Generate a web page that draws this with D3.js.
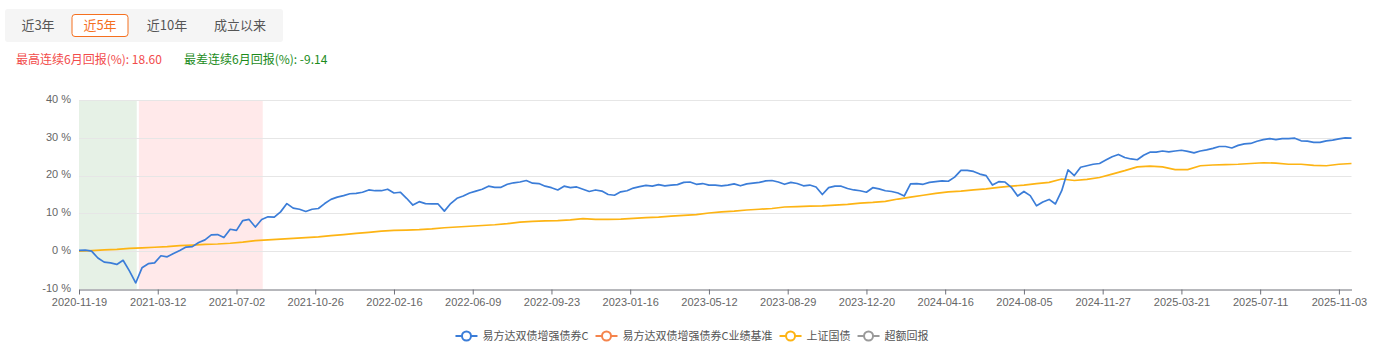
<!DOCTYPE html>
<html>
<head>
<meta charset="utf-8">
<script src="https://cdn.jsdelivr.net/npm/d3@7/dist/d3.min.js"></script>
<style>
  body { margin: 0; background: #fff; }
  text { font-family: "Microsoft YaHei", "Noto Sans CJK SC", sans-serif; }
  .num { font-family: "Liberation Sans", Arial, sans-serif; }
</style>
</head>
<body>
<svg id="chart" width="1383" height="353"></svg>
<script>
// range buttons
var rangeButtons = ["近3年", "近5年", "近10年", "成立以来"];
var activeButton = 1;

// best / worst 6 month stats
var bestLabel = "最高连续6月回报(%): 18.60";
var worstLabel = "最差连续6月回报(%): -9.14";

// x axis: trading-day index, one tick label every 75 trading days
var tickDays = [0, 75, 150, 225, 300, 375, 450, 525, 600, 675, 750, 825, 900, 975, 1050, 1125, 1200];
var tickDates = ["2020-11-19", "2021-03-12", "2021-07-02", "2021-10-26", "2022-02-16", "2022-06-09",
    "2022-09-23", "2023-01-16", "2023-05-12", "2023-08-29", "2023-12-20", "2024-04-16",
    "2024-08-05", "2024-11-27", "2025-03-21", "2025-07-11", "2025-11-03"];
var lastDay = 1212;

var yTicks = [-10, 0, 10, 20, 30, 40];

// 易方达双债增强债券C, cumulative return %, sampled every 6 trading days
var fundStep = 6;
var fundValues = [
    0.2, 0.3, 0.0, -1.8, -2.9, -3.1, -3.5, -2.4, -5.2, -8.4,
    -4.4, -3.3, -3.1, -1.2, -1.5, -0.6, 0.2, 1.1, 1.2, 2.3,
    3.0, 4.3, 4.4, 3.6, 5.8, 5.5, 8.1, 8.4, 6.4, 8.4,
    9.1, 9.0, 10.4, 12.6, 11.4, 11.1, 10.5, 11.1, 11.3, 12.6,
    13.7, 14.3, 14.7, 15.2, 15.3, 15.6, 16.2, 16.0, 16.0, 16.4,
    15.4, 15.6, 14.0, 12.2, 13.1, 12.6, 12.5, 12.5, 10.6, 12.6,
    14.0, 14.6, 15.4, 15.9, 16.4, 17.2, 16.9, 16.9, 17.7, 18.1,
    18.3, 18.7, 18.0, 17.9, 17.2, 16.8, 16.2, 17.2, 16.8, 17.0,
    16.4, 15.8, 16.2, 15.9, 15.0, 14.8, 15.7, 16.0, 16.7, 17.1,
    17.4, 17.2, 17.6, 17.3, 17.5, 17.6, 18.2, 18.3, 17.7, 17.9,
    17.5, 17.5, 17.3, 17.5, 17.8, 17.3, 17.8, 18.0, 18.2, 18.6,
    18.7, 18.3, 17.7, 18.2, 17.9, 17.3, 17.5, 17.0, 15.0, 16.8,
    17.2, 17.2, 16.6, 16.2, 16.0, 15.6, 16.8, 16.5, 16.0, 15.8,
    15.4, 14.6, 17.8, 17.9, 17.7, 18.2, 18.4, 18.6, 18.5, 19.6,
    21.4, 21.4, 21.1, 20.4, 20.0, 17.5, 18.4, 18.3, 16.9, 14.6,
    15.8, 14.7, 12.0, 13.0, 13.7, 12.5, 16.0, 21.5, 20.0, 22.2,
    22.6, 23.0, 23.2, 24.1, 25.0, 25.6, 24.8, 24.4, 24.2, 25.4,
    26.2, 26.2, 26.5, 26.3, 26.5, 26.7, 26.4, 26.0, 26.5, 26.8,
    27.2, 27.7, 27.7, 27.3, 28.0, 28.4, 28.5, 29.1, 29.5, 29.8,
    29.5, 29.8, 29.8, 29.9, 29.2, 29.1, 28.8, 28.8, 29.2, 29.4,
    29.7, 30.0, 29.9
];

// 上证国债, cumulative return %, sampled every 12 trading days
var bondStep = 12;
var bondValues = [
    0.0, 0.15, 0.35, 0.5, 0.75, 0.9, 1.05, 1.2, 1.45, 1.6,
    1.8, 1.9, 2.1, 2.4, 2.8, 3.0, 3.2, 3.4, 3.6, 3.8,
    4.1, 4.4, 4.7, 5.0, 5.3, 5.5, 5.6, 5.7, 5.9, 6.2,
    6.4, 6.6, 6.8, 7.0, 7.3, 7.7, 7.9, 8.0, 8.1, 8.3,
    8.6, 8.4, 8.4, 8.5, 8.7, 8.9, 9.0, 9.3, 9.5, 9.7,
    10.1, 10.4, 10.6, 10.9, 11.1, 11.3, 11.7, 11.8, 11.9, 12.0,
    12.2, 12.4, 12.7, 12.9, 13.2, 13.8, 14.3, 14.8, 15.3, 15.7,
    15.9, 16.2, 16.5, 16.9, 17.2, 17.5, 17.9, 18.2, 19.1, 18.7,
    19.0, 19.5, 20.4, 21.3, 22.3, 22.5, 22.3, 21.6, 21.6, 22.6,
    22.8, 22.9, 23.0, 23.2, 23.4, 23.3, 23.0, 23.0, 22.7, 22.6,
    23.0, 23.2
];

// highlighted periods (trading-day index)
var worstPeriod = [0, 55];
var bestPeriod = [57, 175];

var legendNames = ["易方达双债增强债券C", "易方达双债增强债券C业绩基准", "上证国债", "超额回报"];
var legendColors = ["#3b7dd8", "#f5844c", "#fdb414", "#9a9a9a"];

var svg = d3.select("#chart");

// ---- buttons ----
svg.append("rect")
    .attr("x", 5).attr("y", 9)
    .attr("width", 278).attr("height", 33)
    .attr("rx", 3)
    .attr("fill", "#f5f5f5");

var buttonCenters = [38, 100, 167, 240];
rangeButtons.forEach(function (b, i) {
    if (i == activeButton) {
        svg.append("rect")
            .attr("x", buttonCenters[i] - 28).attr("y", 14.5)
            .attr("width", 56).attr("height", 22)
            .attr("rx", 3)
            .attr("fill", "#fff")
            .attr("stroke", "#f5701f")
            .attr("stroke-width", 1);
    }
    svg.append("text")
        .attr("x", buttonCenters[i]).attr("y", 30)
        .attr("text-anchor", "middle")
        .attr("font-size", 13)
        .attr("fill", i == activeButton ? "#f5701f" : "#555")
        .text(b);
});

// ---- stats ----
svg.append("text")
    .attr("x", 16).attr("y", 64)
    .attr("font-size", 12)
    .attr("fill", "#f24b4b")
    .text(bestLabel);
svg.append("text")
    .attr("x", 184).attr("y", 64)
    .attr("font-size", 12)
    .attr("fill", "#1c8c1c")
    .text(worstLabel);

// ---- scales ----
var x = d3.scaleLinear().domain([0, lastDay]).range([79, 1351.5]);
var y = d3.scaleLinear().domain([-10, 40]).range([289, 100]);

// highlighted bands
svg.append("rect")
    .attr("x", x(worstPeriod[0])).attr("y", y(40))
    .attr("width", x(worstPeriod[1]) - x(worstPeriod[0]))
    .attr("height", y(-10) - y(40))
    .attr("fill", "#e6f1e6");
svg.append("rect")
    .attr("x", x(bestPeriod[0])).attr("y", y(40))
    .attr("width", x(bestPeriod[1]) - x(bestPeriod[0]))
    .attr("height", y(-10) - y(40))
    .attr("fill", "#ffe9ea");

// gridlines
svg.append("g")
    .selectAll("line")
    .data(yTicks.slice(1))
    .enter()
    .append("line")
    .attr("x1", x(0)).attr("x2", x(lastDay))
    .attr("y1", function (d) { return Math.round(y(d)) + 0.5; })
    .attr("y2", function (d) { return Math.round(y(d)) + 0.5; })
    .attr("stroke", "#e6e6e6")
    .attr("stroke-width", 1);

// y labels
svg.append("g")
    .selectAll("text")
    .data(yTicks)
    .enter()
    .append("text")
    .attr("class", "num")
    .attr("x", 71)
    .attr("y", function (d) { return y(d) - 1; })
    .attr("dy", "0.35em")
    .attr("text-anchor", "end")
    .attr("font-size", 11)
    .attr("fill", "#666")
    .text(function (d) { return d + " %"; });

// x axis
var xAxis = d3.axisBottom(x)
    .tickValues(tickDays)
    .tickFormat(function (d, i) { return tickDates[i]; })
    .tickSize(5)
    .tickPadding(4)
    .tickSizeOuter(0);
var gx = svg.append("g")
    .attr("transform", "translate(0," + (y(-10) + 0.5) + ")")
    .call(xAxis);
gx.select(".domain").attr("stroke", "#6e7079");
gx.selectAll(".tick line").attr("stroke", "#6e7079");
gx.selectAll(".tick text")
    .attr("class", "num")
    .attr("fill", "#666")
    .attr("font-size", 11)
    .attr("font-family", null);

// ---- lines ----
var line = d3.line()
    .x(function (d) { return x(d[0]); })
    .y(function (d) { return y(d[1]); });

var bondPoints = bondValues.map(function (v, i) { return [i * bondStep, v]; });
var fundPoints = fundValues.map(function (v, i) { return [i * fundStep, v]; });

svg.append("path")
    .attr("d", line(bondPoints))
    .attr("fill", "none")
    .attr("stroke", legendColors[2])
    .attr("stroke-width", 1.7);

svg.append("path")
    .attr("d", line(fundPoints))
    .attr("fill", "none")
    .attr("stroke", legendColors[0])
    .attr("stroke-width", 1.7)
    .attr("stroke-linejoin", "round");

// ---- legend ----
var legend = svg.append("g");
var cursor = 0;
legendNames.forEach(function (name, i) {
    var item = legend.append("g").attr("transform", "translate(" + cursor + ",0)");
    item.append("line")
        .attr("x1", 0).attr("x2", 22)
        .attr("y1", 0).attr("y2", 0)
        .attr("stroke", legendColors[i])
        .attr("stroke-width", 2);
    item.append("circle")
        .attr("cx", 11).attr("cy", 0).attr("r", 4.5)
        .attr("fill", "#fff")
        .attr("stroke", legendColors[i])
        .attr("stroke-width", 2);
    var t = item.append("text")
        .attr("x", 27).attr("y", 0)
        .attr("dy", "0.35em")
        .attr("font-size", 11)
        .attr("fill", "#555")
        .text(name);
    cursor += 27 + t.node().getComputedTextLength() + 7;
});
cursor -= 7;
legend.attr("transform", "translate(" + (692 - cursor / 2) + ",336)");
</script>
</body>
</html>
